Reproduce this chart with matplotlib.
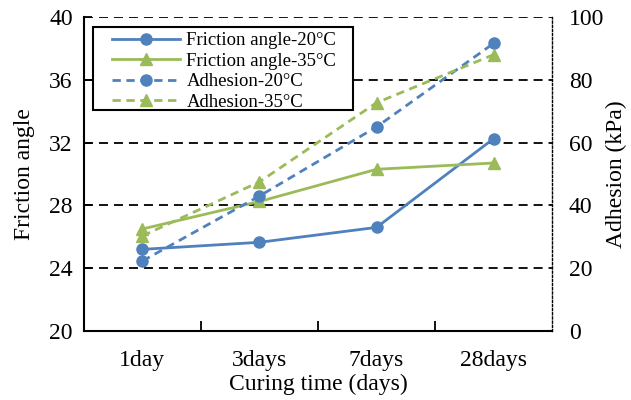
import numpy as np
import matplotlib.pyplot as plt
from matplotlib.patches import Rectangle

plt.rcParams['font.family'] = 'Liberation Serif'

categories = ["1day", "3days", "7days", "28days"]
friction_20 = [25.2, 25.65, 26.6, 32.25]
friction_35 = [26.5, 28.25, 30.3, 30.7]
adhesion_20 = [22.3, 43.0, 65.0, 91.6]
adhesion_35 = [30.3, 47.5, 72.7, 88.0]

blue = "#4F81BD"
green = "#9BBB59"

fig = plt.figure(figsize=(6.31, 4.0), dpi=100)
ax = fig.add_axes([0.133, 0.1725, 0.742, 0.785])
ax2 = ax.twinx()

x = np.arange(len(categories))

# 水平虚线网格
for yv in [24, 28, 32, 36, 40]:
    ax.axhline(yv, color="black", linestyle=(0, (5, 3.3)), linewidth=1.3, zorder=1)

l1, = ax.plot(x, friction_20, color=blue, marker="o", markersize=8, linewidth=2,
              label="Friction angle-20°C", zorder=3)
l2, = ax.plot(x, friction_35, color=green, marker="^", markersize=8, linewidth=2,
              label="Friction angle-35°C", zorder=3)
l3, = ax2.plot(x, adhesion_20, color=blue, marker="o", markersize=8, linewidth=2,
               linestyle=(0, (3, 2)), label="Adhesion-20°C", zorder=3)
l4, = ax2.plot(x, adhesion_35, color=green, marker="^", markersize=8, linewidth=2,
               linestyle=(0, (3, 2)), label="Adhesion-35°C", zorder=3)

# 左轴
ax.set_ylim(20, 40)
ax.set_yticks(np.arange(20, 41, 4))
ax.set_ylabel("Friction angle", fontsize=17, labelpad=10)
ax.tick_params(axis="y", direction="in", length=6, width=1.3, labelsize=17, pad=8)

# 右轴
ax2.set_ylim(0, 100)
ax2.set_yticks(np.arange(0, 101, 20))
ax2.set_ylabel("Adhesion (kPa)", fontsize=17, labelpad=1)
ax2.tick_params(axis="y", length=0, labelsize=17, pad=12)

# X轴
ax.set_xlim(-0.5, 3.5)
ax.set_xticks(x)
ax.set_xticklabels(categories)
ax.set_xticks(x[:-1] + 0.5, minor=True)
ax.tick_params(axis="x", which="major", length=0, labelsize=17, pad=14)
ax.tick_params(axis="x", which="minor", direction="in", length=7, width=1.3)
ax.set_xlabel("Curing time (days)", fontsize=17, labelpad=2)

for a in (ax, ax2):
    a.spines["top"].set_visible(False)
ax.spines["right"].set_visible(False)
ax.spines["left"].set_linewidth(1.5)
ax.spines["bottom"].set_linewidth(1.5)
ax2.spines["left"].set_visible(False)
ax2.spines["bottom"].set_visible(False)
ax2.spines["right"].set_color("black")
ax2.spines["right"].set_linewidth(1.0)
ax2.spines["right"].set_linestyle((0, (1.5, 1.5)))

# 图例（外框单独画）
ax2.add_patch(Rectangle((0.0192, 0.704), 0.556, 0.264, transform=ax2.transAxes,
                        facecolor="white", edgecolor="black", linewidth=1.5,
                        zorder=4, clip_on=False))
leg = ax2.legend(handles=[l1, l2, l3, l4], loc="upper left",
                 bbox_to_anchor=(0.06, 0.952), fontsize=13.5, frameon=False,
                 borderpad=0, labelspacing=0.18,
                 handlelength=3.6, handletextpad=0.37, borderaxespad=0)
leg.set_zorder(5)

plt.savefig("out.png", dpi=100)
